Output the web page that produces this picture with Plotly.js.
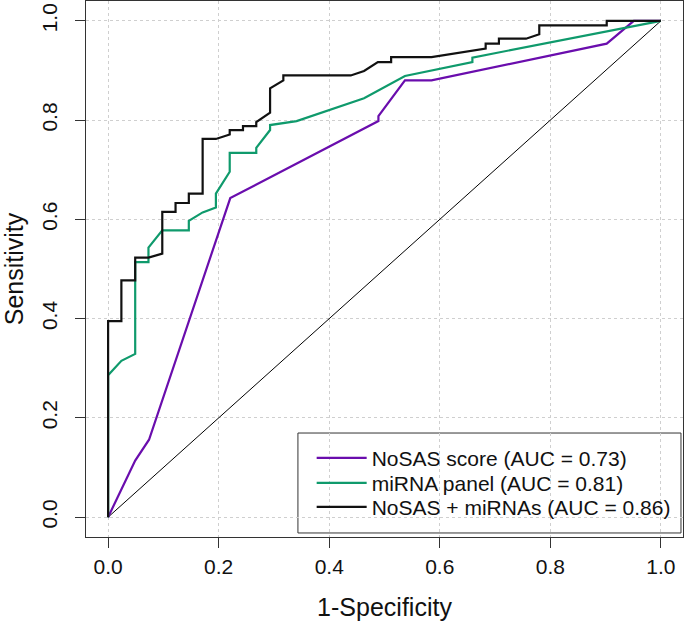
<!DOCTYPE html>
<html><head><meta charset="utf-8">
<script src="https://cdn.plot.ly/plotly-3.0.1.min.js"></script>
<style>body{margin:0;background:#fff}#chart{width:685px;height:622px}</style>
</head><body><div id="chart"></div>
<script>
// NoSAS score ROC curve
const nosasX = [0, 0.049, 0.074, 0.221, 0.489, 0.489, 0.537, 0.585, 0.902, 0.951, 1];
const nosasY = [0, 0.114, 0.156, 0.643, 0.798, 0.808, 0.880, 0.880, 0.954, 1, 1];
// miRNA panel ROC curve
const mirnaX = [0, 0, 0.024, 0.049, 0.049, 0.073, 0.073, 0.098, 0.146, 0.146, 0.171, 0.195, 0.195, 0.220, 0.220, 0.268, 0.268, 0.293, 0.293, 0.341, 0.463, 0.537, 0.659, 0.659, 1];
const mirnaY = [0, 0.286, 0.315, 0.329, 0.514, 0.514, 0.543, 0.578, 0.578, 0.597, 0.614, 0.624, 0.652, 0.696, 0.734, 0.734, 0.744, 0.780, 0.790, 0.798, 0.844, 0.889, 0.917, 0.926, 1];
// NoSAS + miRNAs ROC curve
const comboX = [0, 0, 0.024, 0.024, 0.049, 0.049, 0.073, 0.098, 0.098, 0.122, 0.122, 0.146, 0.146, 0.171, 0.171, 0.195, 0.220, 0.220, 0.244, 0.244, 0.268, 0.268, 0.293, 0.293, 0.317, 0.317, 0.439, 0.463, 0.488, 0.512, 0.512, 0.585, 0.683, 0.683, 0.707, 0.707, 0.756, 0.780, 0.780, 0.902, 0.902, 1];
const comboY = [0, 0.395, 0.395, 0.477, 0.477, 0.523, 0.523, 0.531, 0.615, 0.615, 0.633, 0.633, 0.652, 0.652, 0.762, 0.762, 0.771, 0.780, 0.780, 0.788, 0.788, 0.796, 0.815, 0.864, 0.880, 0.890, 0.890, 0.899, 0.917, 0.917, 0.927, 0.927, 0.944, 0.954, 0.954, 0.964, 0.964, 0.973, 0.991, 0.991, 1, 1];
// chance line
const diagX = [0, 1];
const diagY = [0, 1];
const seriesNames = ['NoSAS score (AUC = 0.73)', 'miRNA panel (AUC = 0.81)', 'NoSAS + miRNAs (AUC = 0.86)'];
const tickVals = [0, 0.2, 0.4, 0.6, 0.8, 1.0];
const tickText = ['0.0', '0.2', '0.4', '0.6', '0.8', '1.0'];

const FONT = 'Liberation Sans, Arial, Helvetica, sans-serif';
const traces = [
  {x: diagX, y: diagY, mode: 'lines', line: {color: '#000', width: 1}, showlegend: false, hoverinfo: 'skip'},
  {x: nosasX, y: nosasY, mode: 'lines', name: seriesNames[0], legend: 'legend', line: {color: '#6a0dad', width: 2.2}},
  {x: mirnaX, y: mirnaY, mode: 'lines', name: seriesNames[1], legend: 'legend2', line: {color: '#0f9a6c', width: 2.2}},
  {x: comboX, y: comboY, mode: 'lines', name: seriesNames[2], legend: 'legend3', line: {color: '#111', width: 2.2}}
];
const axisCommon = {
  range: [-0.04, 1.04], tickvals: tickVals, ticktext: tickText,
  showgrid: true, gridcolor: '#cfcfcf', griddash: 'dot', gridwidth: 1,
  zeroline: false, showline: true, mirror: true, linecolor: '#333', linewidth: 1,
  ticks: 'outside', ticklen: 10, tickwidth: 1, tickcolor: '#333',
  tickfont: {family: FONT, size: 21, color: '#111'}
};
function legendAt(y) {
  return {
    x: 0.378, y: y, xanchor: 'left', yanchor: 'middle',
    bgcolor: 'rgba(0,0,0,0)', borderwidth: 0, itemwidth: 50,
    font: {family: FONT, size: 21, color: '#111'}
  };
}
const layout = {
  width: 685, height: 622,
  margin: {l: 86, r: 2, t: 1, b: 85},
  paper_bgcolor: '#fff', plot_bgcolor: '#fff',
  font: {family: FONT, color: '#111'},
  xaxis: Object.assign({}, axisCommon, {
    ticklabelstandoff: 1,
    title: {text: '1-Specificity', font: {family: FONT, size: 25, color: '#111'}, standoff: 21}
  }),
  yaxis: Object.assign({}, axisCommon, {
    tickangle: -90, ticklabelstandoff: 10,
    title: {text: 'Sensitivity', font: {family: FONT, size: 25, color: '#111'}, standoff: 10}
  }),
  showlegend: true,
  legend: legendAt(0.1468),
  legend2: legendAt(0.1002),
  legend3: legendAt(0.0554),
  shapes: [
    {type: 'rect', xref: 'paper', yref: 'paper', x0: 0.355, x1: 0.9966, y0: 0.0075, y1: 0.194,
     line: {color: '#333', width: 1}, fillcolor: '#fff', layer: 'below'}
  ]
};
Plotly.newPlot('chart', traces, layout, {staticPlot: true, displayModeBar: false});
</script>
</body></html>
